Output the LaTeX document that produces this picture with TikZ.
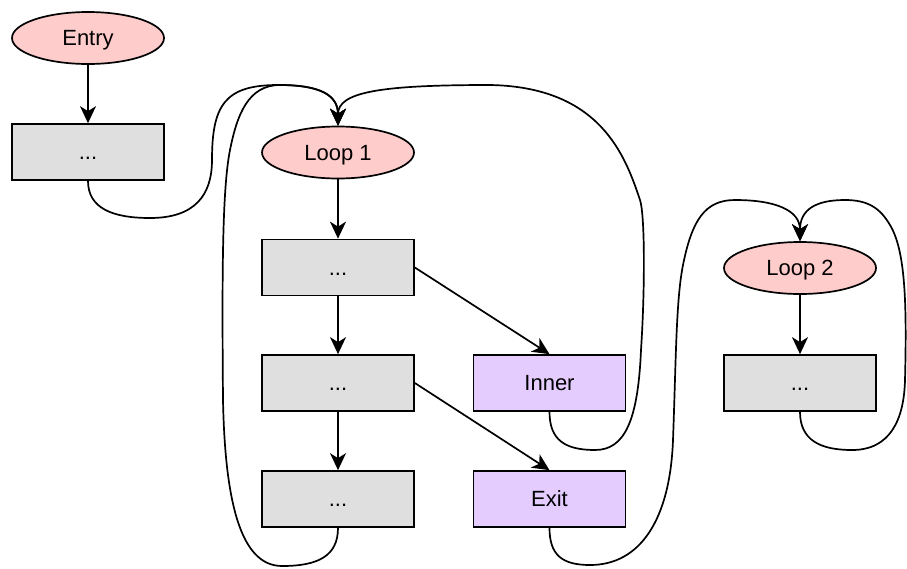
\documentclass[tikz,border=0pt]{standalone}
\usepackage{fontspec}
\setmainfont{Liberation Sans}
\usetikzlibrary{shapes.geometric,arrows.meta}
\definecolor{pinkfill}{HTML}{FFCCCC}
\definecolor{grayfill}{HTML}{DFDFDF}
\definecolor{purplefill}{HTML}{E5CCFF}
\begin{document}
\begin{tikzpicture}[x=1pt,y=-1pt,
  every node/.style={font=\fontsize{22}{26}\selectfont, inner sep=0pt, text height=15.5pt, text depth=0pt},
  loopnode/.style={ellipse, draw, line width=1.7pt, fill=pinkfill, minimum width=152pt, minimum height=52pt},
  blockbox/.style={rectangle, draw, line width=1.7pt, fill=grayfill, minimum width=152pt, minimum height=56pt},
  exitbox/.style={rectangle, draw, line width=1.7pt, fill=purplefill, minimum width=152pt, minimum height=56pt},
  arr/.style={line width=1.7pt, -{Stealth[length=17pt,width=16pt,inset=5pt]}}
]
\useasboundingbox (0,0) rectangle (907,568);

\node[loopnode] (entry) at (88,38) {Entry};
\node[blockbox] (b0) at (88,152) {...};
\node[loopnode] (loop1) at (338,152.5) {Loop 1};
\node[blockbox] (a) at (338,267.5) {...};
\node[blockbox] (b) at (338,383) {...};
\node[blockbox] (c) at (338,499) {...};
\node[exitbox] (inner) at (549.5,383) {Inner};
\node[exitbox] (exit) at (549.5,499) {Exit};
\node[loopnode] (loop2) at (800,268) {Loop 2};
\node[blockbox] (d) at (800,383) {...};

\draw[arr] (entry) -- (b0);
\draw[arr] (loop1) -- (a);
\draw[arr] (a) -- (b);
\draw[arr] (b) -- (c);
\draw[arr] (loop2) -- (d);
\draw[arr] (a.east) -- (inner.north);
\draw[arr] (b.east) -- (exit.north);

% box0 -> loop1
\draw[arr] (b0.south) .. controls (88,208) and (112,218) .. (150,218)
  .. controls (195,218) and (212,195) .. (212,160)
  .. controls (212,105) and (225,85) .. (278,85)
  .. controls (320,85) and (338,95) .. (loop1.north);
% c -> loop1
\draw[arr] (c.south) .. controls (338,556) and (318,566) .. (282,566)
  .. controls (240,566) and (225,500) .. (223,400)
  .. controls (222,280) and (222,190) .. (230,150)
  .. controls (237,115) and (248,85) .. (280,85)
  .. controls (320,85) and (338,95) .. (loop1.north);
% inner -> loop1
\draw[arr] (inner.south) .. controls (549.5,440) and (565,450) .. (595,450)
  .. controls (625,450) and (638,420) .. (641,350)
  .. controls (645,290) and (645,215) .. (640,200)
  .. controls (625,155) and (600,87) .. (490,85)
  .. controls (380,85) and (338,92) .. (loop1.north);
% exit -> loop2
\draw[arr] (exit.south) .. controls (549.5,555) and (562,565) .. (590,565)
  .. controls (640,565) and (670,520) .. (673,440)
  .. controls (676,360) and (676,300) .. (683,265)
  .. controls (692,220) and (705,200) .. (735,200)
  .. controls (775,200) and (800,210) .. (loop2.north);
% d -> loop2
\draw[arr] (d.south) .. controls (800,440) and (820,450) .. (852,450)
  .. controls (890,450) and (904,420) .. (905,380)
  .. controls (907,300) and (905,250) .. (890,225)
  .. controls (880,208) and (868,200) .. (845,200)
  .. controls (815,200) and (800,210) .. (loop2.north);
\end{tikzpicture}
\end{document}
